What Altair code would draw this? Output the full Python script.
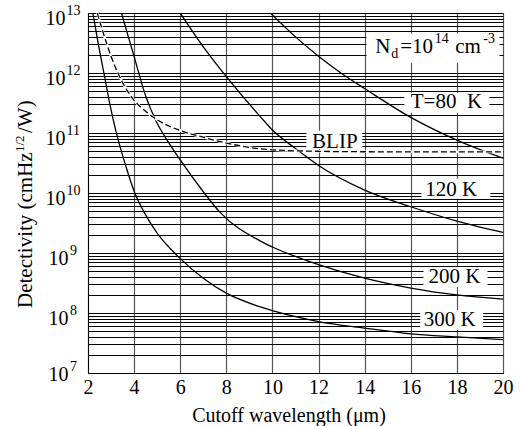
import altair as alt
import pandas as pd

FONT = "Liberation Serif"

# ---------------- data ----------------
x_300 = [2.21, 2.45, 2.69, 2.95, 3.2, 3.6, 4.03, 4.42, 5.0, 5.97, 7.0, 8.0, 9.48, 12, 14, 16, 18, 20]
d_300 = [1.0e13, 3.0e12, 1.0e12, 3.0e11, 1.12e11, 3.16e10, 1.0e10, 4.9e9, 2.14e9, 8.3e8,
         3.8e8, 2.14e8, 1.26e8, 7.2e7, 5.6e7, 4.5e7, 4.0e7, 3.6e7]

x_200 = [3.45, 3.98, 4.49, 4.95, 5.5, 6.0, 7.0, 7.74, 9.48, 10, 12, 14, 16, 18, 20]
d_200 = [1.0e13, 2.0e12, 4.27e11, 1.58e11, 6.9e10, 3.55e10, 1.05e10, 4.7e9, 1.58e9, 1.26e9,
         6.4e8, 3.8e8, 2.6e8, 2.0e8, 1.7e8]

x_120 = [6.0, 7.09, 8.0, 9.48, 10, 11, 12, 14, 16, 18, 20]
d_120 = [1.0e13, 2.45e12, 8.7e11, 1.86e11, 1.12e11, 5.5e10, 2.88e10, 1.12e10, 5.9e9, 3.4e9, 2.2e9]

x_80 = [9.91, 11, 12, 13, 14, 16, 18, 20]
d_80 = [1.0e13, 4.0e12, 1.9e12, 9.8e11, 5.5e11, 1.82e11, 7.6e10, 3.8e10]

x_blip = [2.4, 2.62, 3.0, 3.27, 3.6, 4.06, 4.5, 5.0, 5.94, 7.0, 8.0, 9.0, 10, 12, 14, 16, 18, 20]
d_blip = [1.0e13, 5.25e12, 1.9e12, 1.05e12, 5.9e11, 3.3e11, 2.3e11, 1.66e11, 1.12e11, 8.5e10,
          6.8e10, 5.75e10, 5.25e10, 4.95e10, 4.87e10, 4.85e10, 4.85e10, 4.85e10]

x_ticks = [2, 4, 6, 8, 10, 12, 14, 16, 18, 20]
decades = [1e7, 1e8, 1e9, 1e10, 1e11, 1e12, 1e13]
exponents = ["7", "8", "9", "10", "11", "12", "13"]

# --------------------------------------------------------------
rows = []
for name, xs_, ds_ in [("300 K", x_300, d_300), ("200 K", x_200, d_200),
                       ("120 K", x_120, d_120), ("80 K", x_80, d_80)]:
    for a, b in zip(xs_, ds_):
        rows.append({"series": name, "x": a, "d": b})
curves = pd.DataFrame(rows)
blip = pd.DataFrame({"x": x_blip, "d": d_blip})

minor = []
for e in range(7, 13):
    for m in range(1, 10):
        minor.append(m * 10.0 ** e)
minor.append(1e13)

xs = alt.Scale(domain=[2, 20], nice=False, zero=False)
ys = alt.Scale(type="log", domain=[1e7, 1e13], nice=False)

x_axis = alt.Axis(values=x_ticks, grid=True, gridColor="#555", gridWidth=1.2,
                  ticks=False, tickSize=0, domainColor="black",
                  labelFont=FONT, labelFontSize=20, labelColor="black",
                  labelBaseline="alphabetic", labelPadding=20, labelFlush=False,
                  title="Cutoff wavelength (μm)", titleFont=FONT, titleFontSize=20,
                  titleFontWeight="normal", titleColor="black",
                  titleBaseline="alphabetic", titleX=200.5, titleY=48.5, titleAlign="center")
y_axis = alt.Axis(values=minor, grid=True, gridColor="black", gridWidth=1,
                  ticks=False, labels=False, domainColor="black", title=None)


def X(f):
    return alt.X(f, scale=xs, axis=x_axis)


def Y(f):
    return alt.Y(f, scale=ys, axis=y_axis)


# white label backgrounds (data coordinates)
boxes = pd.DataFrame({
    "x0": [14.08, 15.72, 11.47, 16.46, 16.55, 16.41],
    "x1": [19.85, 19.41, 13.90, 19.45, 19.33, 19.14],
    "y0": [4.52e12, 4.69e11, 1.09e11, 1.72e10, 5.86e8, 1.12e8],
    "y1": [1.48e12, 2.17e11, 5.35e10, 8.0e9, 2.72e8, 5.21e7],
})
box_layer = alt.Chart(boxes).mark_rect(color="white").encode(
    x=X("x0:Q"), x2="x1:Q", y=Y("y0:Q"), y2="y1:Q",
)

line_layer = alt.Chart(curves).mark_line(color="black", strokeWidth=1.3,
                                         interpolate="monotone", clip=True).encode(
    x=X("x:Q"), y=Y("d:Q"), detail="series:N",
)
blip_under = alt.Chart(blip).mark_line(color="white", strokeWidth=2.6,
                                       interpolate="monotone", clip=True).encode(
    x=X("x:Q"), y=Y("d:Q"),
)
blip_layer = alt.Chart(blip).mark_line(color="black", strokeWidth=1.3, strokeDash=[6, 3],
                                       interpolate="monotone", clip=True).encode(
    x=X("x:Q"), y=Y("d:Q"),
)


def txt(x, y, s, size=21, dx=0, dy=0):
    return alt.Chart(pd.DataFrame({"x": [x], "y": [y], "t": [s]})).mark_text(
        align="left", baseline="alphabetic", font=FONT, fontSize=size,
        dx=dx, dy=dy, color="black").encode(
        x=X("x:Q"), y=Y("y:Q"), text="t:N")


labels = [
    txt(14.46, 2.15e12, "N"),
    txt(14.46, 2.15e12, "d", size=14, dx=16, dy=4.7),
    txt(14.46, 2.15e12, "=10", dx=25),
    txt(14.46, 2.15e12, "14", size=14, dx=59.5, dy=-10.3),
    txt(14.46, 2.15e12, "cm", dx=80),
    txt(14.46, 2.15e12, "-3", size=14, dx=108, dy=-10.3),
    txt(16.0, 2.6e11, "T=80\u00a0\u00a0K"),
    txt(11.72, 5.66e10, "BLIP"),
    txt(16.63, 8.98e9, "120 K"),
    txt(16.77, 3.17e8, "200 K"),
    txt(16.56, 6.08e7, "300 K"),
]

# y tick labels: 10 with superscript exponent
ylab = pd.DataFrame({"v": decades, "e": exponents})


def ylabel_layer(vals, x10, xexp, dy10, dyexp):
    d = ylab[ylab["v"].isin(vals)]
    base = alt.Chart(d).encode(y=Y("v:Q"))
    ten = base.mark_text(align="right", baseline="alphabetic", font=FONT, fontSize=20,
                         dy=dy10, color="black").encode(x=alt.value(x10), text=alt.value("10"))
    ex = base.mark_text(align="left", baseline="alphabetic", font=FONT, fontSize=14,
                        dy=dyexp, color="black").encode(x=alt.value(xexp), text="e:N")
    return [ten, ex]


ylabels = (ylabel_layer([1e10, 1e11, 1e12, 1e13], -22.5, -21.5, 12, 1.5)
           + ylabel_layer([1e8, 1e9], -19.5, -18, 12, 1.5)
           + ylabel_layer([1e7], -19.5, -18, 8, -2.5))

one = pd.DataFrame({"a": [0]})


def ytitle(s, x, y, size):
    return alt.Chart(one).mark_text(align="left", baseline="alphabetic", angle=270,
                                    font=FONT, fontSize=size, color="black").encode(
        x=alt.value(x), y=alt.value(y), text=alt.value(s))


ytitles = [
    ytitle("Detectivity (cmHz", -56.5, 295, 21),
    ytitle("1/2", -64.5, 139, 13),
    ytitle("/W)", -56.5, 120, 21),
]

chart = alt.layer(box_layer, line_layer, blip_under, blip_layer,
                  *labels, *ylabels, *ytitles).properties(
    width=415, height=360,
    padding={"left": 88, "top": 13, "right": 18, "bottom": 53},
    autosize=alt.AutoSizeParams(type="none"),
    background="white",
).configure_view(stroke="#444", strokeWidth=1)

chart.save("out.html", embed_options={"renderer": "svg", "actions": False})
